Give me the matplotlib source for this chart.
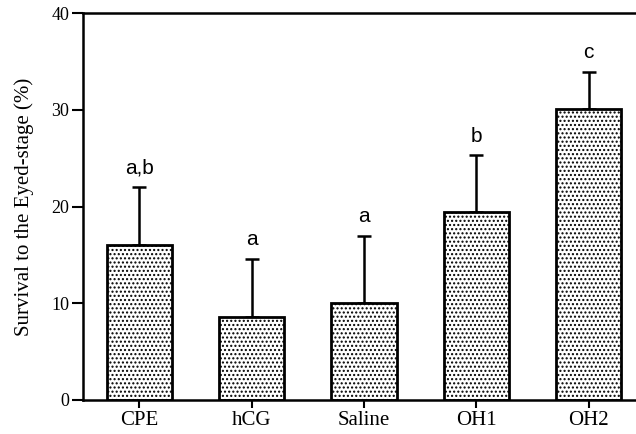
import numpy as np
import matplotlib
matplotlib.use("Agg")
import matplotlib.pyplot as plt

# Data
groups = ["CPE", "hCG", "Saline", "OH1", "OH2"]
survival = [16.0, 8.6, 10.0, 19.4, 30.1]
upper_err = [6.0, 6.0, 7.0, 5.9, 3.8]
letters = ["a,b", "a", "a", "b", "c"]
yticks = [0, 10, 20, 30, 40]

plt.rcParams["hatch.color"] = "black"
plt.rcParams["hatch.linewidth"] = 1.0

fig = plt.figure(figsize=(6.36, 4.34), dpi=100)
ax = fig.add_axes([83 / 636, 1 - 400 / 434, 1 - 83 / 636, 387 / 434])

x = np.arange(len(groups))
ax.bar(x, survival, width=0.58, color="white", edgecolor="black",
       linewidth=2, hatch="....", zorder=2)
ax.errorbar(x, survival, yerr=[np.zeros(len(x)), upper_err], fmt="none",
            ecolor="black", elinewidth=1.8, capsize=5, capthick=1.8, zorder=1)

for xi, s, e, lab in zip(x, survival, upper_err, letters):
    ax.text(xi, s + e + 1.0, lab, ha="center", va="bottom",
            family="Liberation Sans", fontsize=15)

ax.set_xlim(-0.5, 4.42)
ax.set_ylim(0, 40)
ax.set_yticks(yticks)
ax.set_xticks(x)
ax.set_xticklabels(groups, family="Liberation Serif", fontsize=15)
for t in ax.get_yticklabels():
    t.set_family("Liberation Serif")
    t.set_fontsize(13)
ax.set_ylabel("Survival to the Eyed-stage (%)", family="Liberation Serif",
              fontsize=15, labelpad=12)

ax.spines["right"].set_visible(False)
for sp in ["left", "top", "bottom"]:
    ax.spines[sp].set_linewidth(1.8)
ax.tick_params(axis="y", direction="out", length=8, width=1.5, pad=2)
ax.tick_params(axis="x", direction="out", length=6, width=1.5, pad=2)

fig.savefig("out.png", dpi=100)
